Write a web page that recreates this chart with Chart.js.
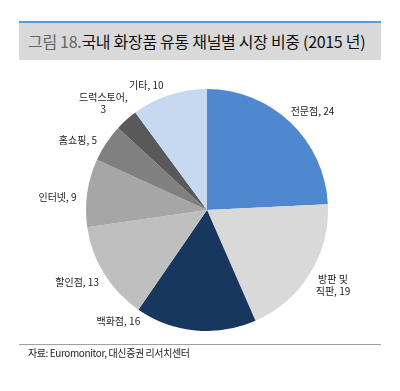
<!DOCTYPE html>
<html>
<head>
<meta charset="utf-8">
<script src="https://cdn.jsdelivr.net/npm/chart.js@4"></script>
<style>
  body { margin: 0; background: #fff; width: 400px; height: 391px; overflow: hidden; position: relative; font-family: "Noto Sans CJK KR", sans-serif; }
  #myChart { position: absolute; left: 0; top: 0; }
  .title { position: absolute; left: 19px; top: 21px; width: 362px; height: 39px; background: #d9d9d9; border-top: 2px solid #5b9bd5; box-sizing: border-box; font-size: 16px; line-height: 36px; padding-left: 9px; color: #111; letter-spacing: -0.3px; }
  .title span { color: #666; }
  .rule { position: absolute; left: 19px; top: 344px; width: 362px; height: 1px; background: #a0a0a0; }
  .source { position: absolute; left: 28px; top: 346px; font-size: 10px; line-height: 14px; color: #222; letter-spacing: -0.4px; }
</style>
</head>
<body>
<div class="title"><span>그림 18.</span>국내 화장품 유통 채널별 시장 비중 (2015 년)</div>
<canvas id="myChart" width="400" height="391"></canvas>
<div class="rule"></div>
<div class="source">자료: Euromonitor, 대신증권 리서치센터</div>
<script>
const channels = ['전문점', '방판 및\n직판', '백화점', '할인점', '인터넷', '홈쇼핑', '드럭스토어', '기타']
const shares = [24, 19, 16, 13, 9, 5, 3, 10]
const valueOnNewLine = [false, false, false, false, false, false, true, false]
const colors = ['#4f88cf', '#d9d9d9', '#17375e', '#bfbfbf', '#a6a6a6', '#808080', '#595959', '#c6d9f1']
// small angle nudges (deg) where excel moved a label off the slice middle
const angleNudge = [0, 0, 30, 0, -3, -3, 0, -6]

const ctx = document.getElementById('myChart');

function labelLines(i){
  const lines = channels[i].split('\n')
  if(valueOnNewLine[i]){
    lines[lines.length-1] += ','
    lines.push(String(shares[i]))
  } else {
    lines[lines.length-1] += ', ' + shares[i]
  }
  return lines
}

const outsideLabels = {
  id: 'outsideLabels',
  afterDatasetsDraw(chart){
    const c = chart.ctx
    const meta = chart.getDatasetMeta(0)
    c.save()
    c.font = '10px "Noto Sans CJK KR", sans-serif'
    c.fillStyle = '#222'
    c.textAlign = 'center'
    c.textBaseline = 'middle'
    const lh = 12
    meta.data.forEach((arc, i) => {
      const mid = (arc.startAngle + arc.endAngle) / 2 + angleNudge[i] * Math.PI / 180
      const r = arc.outerRadius + 10
      const ax = arc.x + Math.cos(mid) * r
      const ay = arc.y + Math.sin(mid) * r
      const lines = labelLines(i)
      const w = Math.max(...lines.map(l => c.measureText(l).width))
      const h = lines.length * lh
      const bx = ax + Math.cos(mid) * w / 2
      const by = ay + Math.sin(mid) * h / 2
      lines.forEach((l, k) => {
        c.fillText(l, bx, by - h / 2 + lh / 2 + k * lh)
      })
    })
    c.restore()
  }
}

new Chart(ctx, {
  type: 'pie',
  data: {
    labels: channels,
    datasets: [{
      data: shares,
      backgroundColor: colors,
      borderWidth: 0,
      hoverOffset: 0
    }]
  },
  options: {
    responsive: false,
    animation: false,
    layout: { padding: { left: 86, right: 72, top: 89, bottom: 60 } },
    plugins: {
      legend: { display: false },
      tooltip: { enabled: false }
    }
  },
  plugins: [outsideLabels]
})
</script>
</body>
</html>
